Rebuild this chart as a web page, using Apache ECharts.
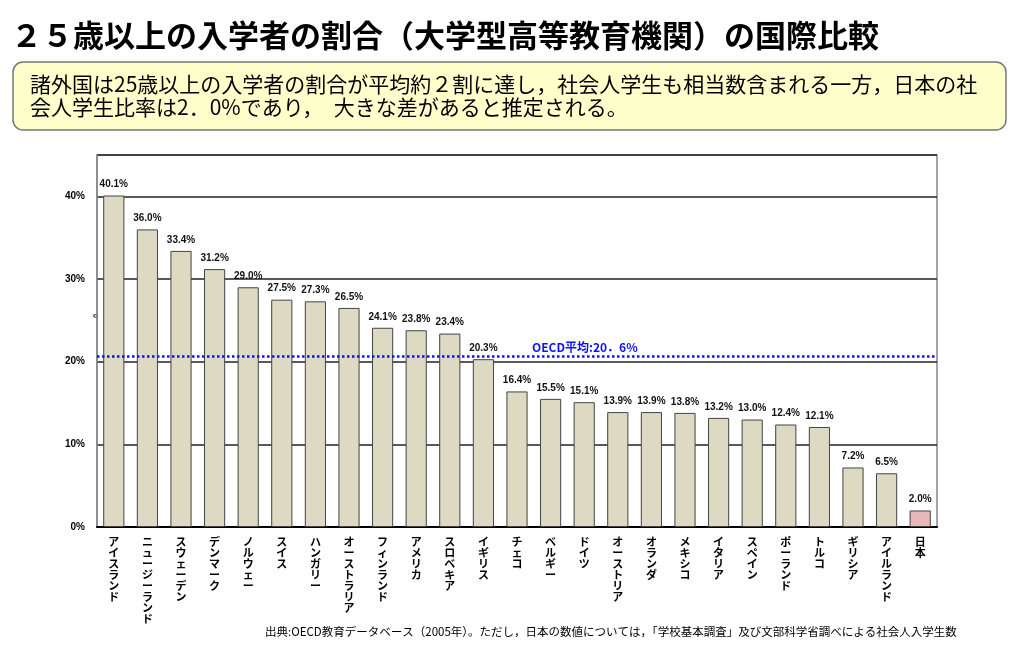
<!DOCTYPE html>
<html>
<head>
<meta charset="utf-8">
<script src="https://cdn.jsdelivr.net/npm/echarts@6/dist/echarts.min.js"></script>
<style>
    html, body { margin: 0; padding: 0; background: #fff; }
    #main { width: 1024px; height: 650px; }
</style>
</head>
<body>
<div id="main"></div>
<script>
    // 国名（グラフの並び順）
    var countries = ['アイスランド', 'ニュージーランド', 'スウェーデン', 'デンマーク', 'ノルウェー', 'スイス',
        'ハンガリー', 'オーストラリア', 'フィンランド', 'アメリカ', 'スロベキア', 'イギリス', 'チェコ',
        'ベルギー', 'ドイツ', 'オーストリア', 'オランダ', 'メキシコ', 'イタリア', 'スペイン', 'ポーランド',
        'トルコ', 'ギリシア', 'アイルランド', '日本'];
    // 25歳以上の入学者の割合(%)
    var shares = [40.1, 36.0, 33.4, 31.2, 29.0, 27.5, 27.3, 26.5, 24.1, 23.8, 23.4, 20.3, 16.4,
        15.5, 15.1, 13.9, 13.9, 13.8, 13.2, 13.0, 12.4, 12.1, 7.2, 6.5, 2.0];
    var oecdAverage = 20.6;
    var yTicks = [0, 10, 20, 30, 40];

    var jpFont = '"Noto Sans CJK JP", "Noto Sans", sans-serif';
    var numFont = '"Liberation Sans", Arial, sans-serif';

    var chart = echarts.init(document.getElementById('main'));
    chart.setOption({
        animation: false,
        title: {
            text: '２５歳以上の入学者の割合（大学型高等教育機関）の国際比較',
            left: 6,
            top: 15,
            textStyle: {fontFamily: jpFont, fontSize: 31, fontWeight: 'bold', color: '#000'}
        },
        graphic: [
            {
                type: 'rect',
                shape: {x: 13, y: 62, width: 993, height: 68, r: 10},
                style: {fill: '#FFFFCC', stroke: '#777', lineWidth: 1.5}
            },
            {
                type: 'text',
                left: 30,
                top: 73,
                style: {
                    text: '諸外国は25歳以上の入学者の割合が平均約２割に達し，社会人学生も相当数含まれる一方，日本の社\n会人学生比率は2．0%であり，　大きな差があると推定される。',
                    font: '21px ' + jpFont,
                    lineHeight: 23,
                    fill: '#000'
                }
            },
            {
                type: 'text',
                left: 265,
                top: 626,
                style: {
                    text: '出典:OECD教育データベース（2005年）。ただし，日本の数値については，「学校基本調査」及び文部科学省調べによる社会人入学生数',
                    font: '11.5px ' + jpFont,
                    fill: '#000'
                }
            },
            {
                type: 'text',
                x: 92,
                y: 318,
                rotation: Math.PI / 2,
                style: {text: '6', font: '8px ' + numFont, fill: '#000'}
            }
        ],
        grid: {
            left: 97,
            right: 87,
            top: 155,
            bottom: 123,
            show: true,
            borderColor: '#888',
            borderWidth: 1.5
        },
        xAxis: {
            type: 'category',
            data: countries,
            axisTick: {show: false},
            axisLine: {lineStyle: {color: '#000', width: 2}},
            axisLabel: {
                interval: 0,
                margin: 9,
                fontFamily: jpFont,
                fontSize: 11,
                fontWeight: 'bold',
                lineHeight: 11,
                color: '#000',
                formatter: function (name) {
                    return name.split('').join('\n');
                }
            }
        },
        yAxis: {
            type: 'value',
            min: yTicks[0],
            max: 45,
            interval: 10,
            axisLine: {show: true, lineStyle: {color: '#888', width: 1.5}},
            axisTick: {show: false},
            splitLine: {lineStyle: {color: '#222', width: 1.5}},
            axisLabel: {
                showMaxLabel: false,
                margin: 12,
                fontFamily: numFont,
                fontSize: 10,
                fontWeight: 'bold',
                color: '#000',
                formatter: function (v) {
                    return yTicks.indexOf(v) >= 0 ? v + '%' : '';
                }
            }
        },
        series: [{
            type: 'bar',
            data: shares,
            barWidth: '63%',
            itemStyle: {
                color: function (p) {
                    return p.name === '日本' ? '#E6B8B7' : '#DDD9C3';
                },
                borderColor: '#444',
                borderWidth: 1
            },
            label: {
                show: true,
                position: 'top',
                distance: 6,
                fontFamily: numFont,
                fontSize: 10,
                fontWeight: 'bold',
                color: '#111',
                formatter: function (p) {
                    return p.value.toFixed(1) + '%';
                }
            },
            markLine: {
                silent: true,
                symbol: 'none',
                data: [{yAxis: oecdAverage}],
                lineStyle: {color: '#1010FF', type: 'dotted', width: 2.5},
                label: {
                    position: 'insideStartTop',
                    distance: [435, 3],
                    formatter: 'OECD平均:20．6%',
                    fontFamily: jpFont,
                    fontSize: 12,
                    fontWeight: 'bold',
                    color: '#1010FF'
                }
            }
        }]
    });
</script>
</body>
</html>
